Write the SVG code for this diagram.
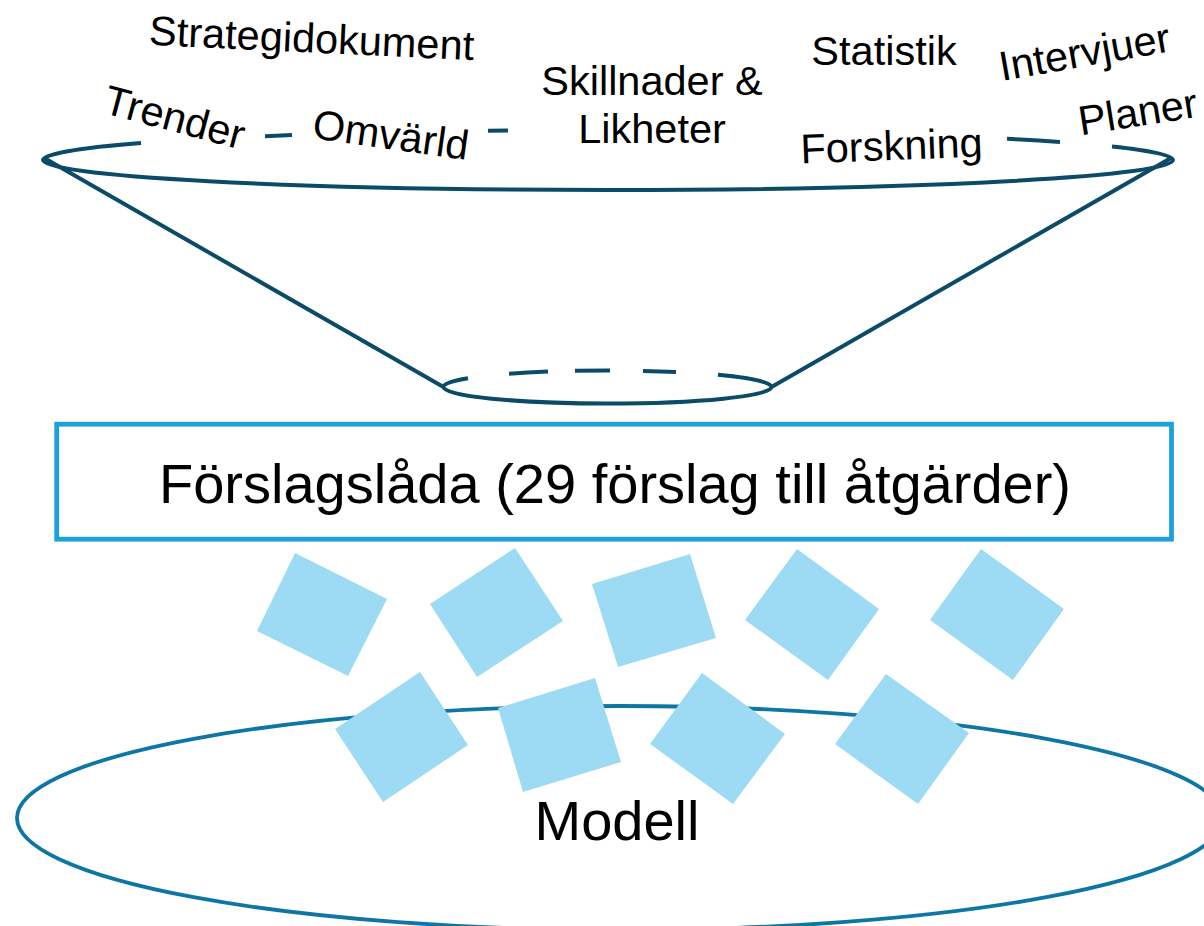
<svg xmlns="http://www.w3.org/2000/svg" width="1204" height="926" viewBox="0 0 1204 926">
  <style>
    .lbl { font-family: "Liberation Sans", Arial, sans-serif; font-size: 41.5px; fill: #000; }
    .big { font-family: "Liberation Sans", Arial, sans-serif; font-size: 56px; fill: #000; text-anchor: middle; }
    .funnel { fill: none; stroke: #0B4B67; stroke-width: 4; }
    .note { fill: #9DDBF4; }
  </style>
  <rect width="1204" height="926" fill="#fff"/>

  <g id="funnel">
    <path class="funnel" d="M43,160 A565 30 0 0 0 1173,160"/>
    <path class="funnel" d="M43,160 A565 30 0 0 1 141,143.1"/>
    <path class="funnel" d="M265,136.2 A565 30 0 0 1 292,135.1"/>
    <path class="funnel" d="M488,130.7 A565 30 0 0 1 508,130.5"/>
    <path class="funnel" d="M1007,138.8 A565 30 0 0 1 1060,142"/>
    <path class="funnel" d="M1112,146.4 A565 30 0 0 1 1173,160"/>
    <path class="funnel" d="M45,158.5 L443.5,387"/>
    <path class="funnel" d="M1171,158 L771.5,387"/>
    <path class="funnel" d="M443.5,387 A164 16.5 0 0 0 771.5,387"/>
    <path class="funnel" d="M443.5,387 A164 16.5 0 0 1 468,378.3"/>
    <path class="funnel" d="M509,373.8 A164 16.5 0 0 1 548,371.6"/>
    <path class="funnel" d="M575,370.8 A164 16.5 0 0 1 610,370.5"/>
    <path class="funnel" d="M643,370.9 A164 16.5 0 0 1 676,372"/>
    <path class="funnel" d="M718,374.8 A164 16.5 0 0 1 771.5,387"/>
  </g>

  <g id="labels">
    <text class="lbl" text-anchor="middle" x="311" y="52.5" transform="rotate(2.7 311 52.5)">Strategidokument</text>
    <text class="lbl" text-anchor="middle" x="171" y="131" transform="rotate(15 171 131)">Trender</text>
    <text class="lbl" text-anchor="middle" x="389" y="149" transform="rotate(8 389 149)">Omvärld</text>
    <text class="lbl" text-anchor="middle" x="652" y="95">Skillnader &amp;</text>
    <text class="lbl" text-anchor="middle" x="652" y="143.3">Likheter</text>
    <text class="lbl" text-anchor="middle" x="884" y="65">Statistik</text>
    <text class="lbl" text-anchor="middle" x="892" y="160" transform="rotate(-2.2 892 160)">Forskning</text>
    <text class="lbl" text-anchor="middle" x="1087" y="66" transform="rotate(-10 1087 66)">Intervjuer</text>
    <text class="lbl" text-anchor="middle" x="1140" y="126" transform="rotate(-9 1140 126)">Planer</text>
  </g>

  <g id="forslagslada">
    <rect x="56.7" y="424.2" width="1114.8" height="115" fill="#fff" stroke="#1BA1DB" stroke-width="4.8"/>
    <text class="big" x="615" y="503.3">Förslagslåda (29 förslag till åtgärder)</text>
  </g>

  <g id="modell">
    <ellipse cx="620" cy="818" rx="603" ry="112" fill="none" stroke="#0E76A5" stroke-width="3.8"/>
    <text class="big" x="617" y="840">Modell</text>
  </g>

  <g id="notes">
    <polygon class="note" points="295,553 387,599 348,676 257,631"/>
    <polygon class="note" points="515,548 563,621 477,677 430,604"/>
    <polygon class="note" points="690,554 716,638 618,667 592,584"/>
    <polygon class="note" points="797,549 879,609 828,680 745,620"/>
    <polygon class="note" points="981,549 1064,609 1013,680 930,620"/>
    <polygon class="note" points="420,672 468,745 383,802 335,729"/>
    <polygon class="note" points="595,678 621,762 523,792 498,708"/>
    <polygon class="note" points="702,673 785,734 733,804 650,744"/>
    <polygon class="note" points="886,674 969,733 918,804 835,744"/>
  </g>
</svg>
